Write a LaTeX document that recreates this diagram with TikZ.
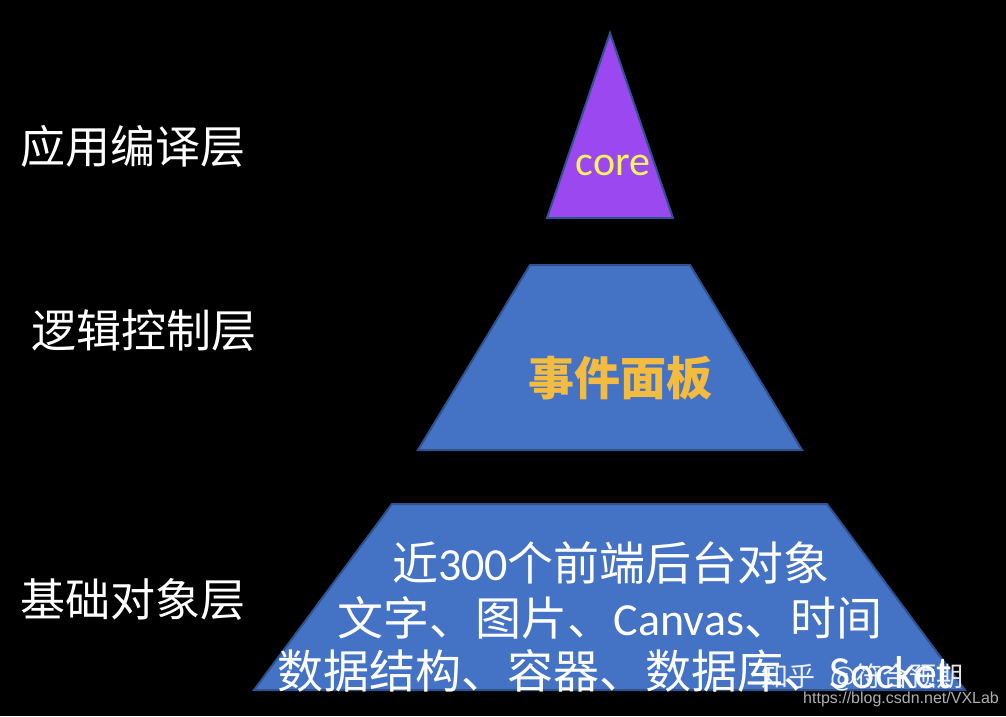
\documentclass[tikz,border=0pt]{standalone}
\usepackage{fontspec}
\setmainfont{Carlito}
\newfontfamily\cjk{Noto Sans CJK SC}
\newfontfamily\lat{Carlito}
\newfontfamily\wm{Liberation Sans}
\definecolor{pyramidpurple}{RGB}{155,72,240}
\definecolor{pyramidblue}{RGB}{68,114,196}
\definecolor{edgeblue}{RGB}{47,82,143}
\definecolor{coreyellow}{RGB}{248,244,90}
\definecolor{goldtext}{RGB}{243,187,63}
\definecolor{wmgray}{RGB}{175,175,175}
\tikzset{
  layer/.style={draw=edgeblue, line width=2pt, line join=miter},
  sidelabel/.style={text=white, anchor=base west, inner sep=0pt, font=\cjk\fontsize{45}{50}\selectfont},
  bodytext/.style={text=white, anchor=base, inner sep=0pt, font=\cjk\fontsize{46}{50}\selectfont},
  wmtext/.style={anchor=base west, inner sep=0pt}
}
\begin{document}
\begin{tikzpicture}[x=1pt,y=-1pt]
\fill[black] (0,0) rectangle (1006,716);
\useasboundingbox (0,0) rectangle (1006,716);
% top triangle
\coordinate (apex) at (610,33);
\coordinate (tbl) at (547,218);
\coordinate (tbr) at (673,218);
\filldraw[layer, fill=pyramidpurple] (apex) -- (tbr) -- (tbl) -- cycle;
% middle trapezoid
\coordinate (mtl) at (530,265);
\coordinate (mtr) at (690,265);
\coordinate (mbr) at (802,450);
\coordinate (mbl) at (418,450);
\filldraw[layer, fill=pyramidblue] (mtl) -- (mtr) -- (mbr) -- (mbl) -- cycle;
% bottom trapezoid
\coordinate (btl) at (392,504);
\coordinate (btr) at (827,504);
\coordinate (bbr) at (965,690);
\coordinate (bbl) at (254,690);
\filldraw[layer, fill=pyramidblue] (btl) -- (btr) -- (bbr) -- (bbl) -- cycle;
% texts in shapes
\node[anchor=base, inner sep=0pt, text=coreyellow, font=\lat\fontsize{42}{46}\selectfont] (core) at (613,175) {core};
\node[anchor=base, inner sep=0pt, text=goldtext, font=\cjk\bfseries\fontsize{46}{50}\selectfont] (event) at (620,395) {事件面板};
\node[bodytext] (line1) at (611,580) {近{\lat 300}个前端后台对象};
\node[bodytext] (line2) at (610,635) {文字、图片、{\lat Canvas}、时间};
\node[bodytext] (line3) at (615,688) {数据结构、容器、数据库、{\lat Socket}};
% side labels
\node[sidelabel] (l1) at (20,163) {应用编译层};
\node[sidelabel] (l2) at (31,347) {逻辑控制层};
\node[sidelabel] (l3) at (20,616) {基础对象层};
% watermark
\node[wmtext, text=white, opacity=0.9, font=\cjk\fontsize{27}{30}\selectfont] (wm1) at (761,686) {知乎};
\node[wmtext, text=white, opacity=0.9, font=\cjk\fontsize{27}{30}\selectfont] (wm2) at (830,686) {@符合预期};
\node[wmtext, text=wmgray, font=\wm\fontsize{16}{18}\selectfont] (url) at (803,703) {https://blog.csdn.net/VXLab};
\end{tikzpicture}
\end{document}
